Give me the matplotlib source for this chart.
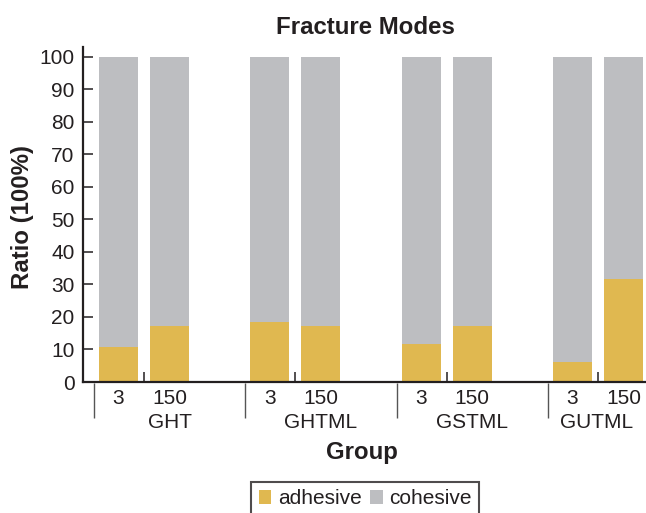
import matplotlib
matplotlib.use("Agg")
import matplotlib.pyplot as plt
from matplotlib.patches import Patch

plt.rcParams['font.family'] = ['Liberation Sans', 'DejaVu Sans']

# ---- data ----
groups = ['GHT', 'GHTML', 'GSTML', 'GUTML']
times = ['3', '150']
adhesive = [10.8, 17.3, 18.5, 17.3, 11.7, 17.3, 6.3, 31.7]
cohesive = [89.2, 82.7, 81.5, 82.7, 88.3, 82.7, 93.7, 68.3]
yticks = [0, 10, 20, 30, 40, 50, 60, 70, 80, 90, 100]
title = 'Fracture Modes'
xlabel = 'Group'
ylabel = 'Ratio (100%)'
series_names = ['adhesive', 'cohesive']

# ---- style ----
c_adh = '#E0B850'
c_coh = '#BDBEC1'
dark = '#231F20'
W, H = 646, 513
fig = plt.figure(figsize=(W / 100, H / 100), dpi=100)
ax = fig.add_axes([83 / W, 131 / H, (W - 83) / W, 335 / H])

offsets = [0.0, 0.337]
width = 0.258
xmin, xmax = -0.2346, 3.486

xs = []
for g in range(len(groups)):
    for o in offsets:
        xs.append(g + o)

ax.bar(xs, adhesive, width=width, color=c_adh, linewidth=0, zorder=2)
ax.bar(xs, cohesive, width=width, bottom=adhesive, color=c_coh, linewidth=0, zorder=2)

ax.set_xlim(xmin, xmax)
ax.set_ylim(0, 103)
ax.set_yticks(yticks)
ax.tick_params(axis='y', direction='in', length=7.2, width=1.1, labelsize=15,
               pad=6, colors=dark, labelcolor=dark)

ax.set_xticks(xs)
ax.set_xticklabels(times * len(groups))
ax.tick_params(axis='x', which='major', length=0, labelsize=15, pad=5, labelcolor=dark)
ax.set_xticks([g + (offsets[0] + offsets[1]) / 2 for g in range(len(groups))], minor=True)
ax.tick_params(axis='x', which='minor', direction='in', length=7.2, width=1.1, colors=dark)

for s in ['top', 'right']:
    ax.spines[s].set_visible(False)
for s in ['left', 'bottom']:
    ax.spines[s].set_linewidth(1.6)
    ax.spines[s].set_color(dark)

# group separators and labels
trans = ax.get_xaxis_transform()
sep = -0.162
for g, name in enumerate(groups):
    xl = g + sep
    xr = g + 1 + sep
    ax.plot([xl, xl], [-0.004, -0.1075], transform=trans, color='#555555',
            lw=1.0, clip_on=False, solid_capstyle='butt')
    cx = (max(xl, xmin) + min(xr, xmax)) / 2
    ax.annotate(name, xy=(cx, 0), xycoords=trans, xytext=(0, -22),
                textcoords='offset points', ha='center', va='top',
                fontsize=15, color=dark)

fig.text(365.5 / W, 1 - 34.3 / H, title, ha='center', va='baseline',
         fontsize=17.3, fontweight='bold', color=dark)
fig.text(361.7 / W, 1 - 459.3 / H, xlabel, ha='center', va='baseline',
         fontsize=17.3, fontweight='bold', color=dark)
fig.text(23 / W, 1 - 217.3 / H, ylabel, ha='center', va='center', rotation=90,
         fontsize=17.3, fontweight='bold', color=dark)

handles = [Patch(facecolor=c_adh, edgecolor='none'), Patch(facecolor=c_coh, edgecolor='none')]
leg = fig.legend(handles, series_names, loc='upper center',
                 bbox_to_anchor=(365 / W, 1 - 482 / H), ncol=2, frameon=True,
                 fancybox=False, edgecolor=dark, fontsize=15,
                 handlelength=0.62, handleheight=0.62, handletextpad=0.3,
                 columnspacing=0.4, borderpad=0.35, borderaxespad=0)
leg.get_frame().set_linewidth(1.5)
for t in leg.get_texts():
    t.set_color(dark)

fig.savefig('out.png', dpi=100)
